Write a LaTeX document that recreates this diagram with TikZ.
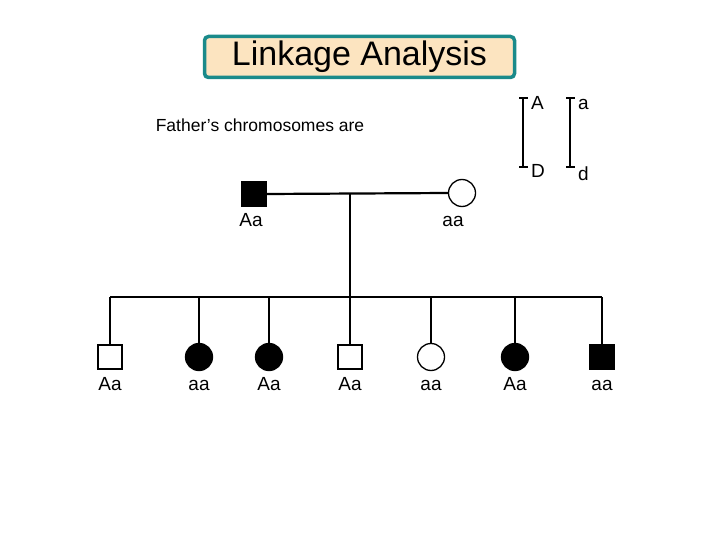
\documentclass[tikz,border=0pt]{standalone}
\usepackage{fontspec}
\setmainfont{Liberation Sans}
\begin{document}
\begin{tikzpicture}[x=1pt,y=-1pt,line width=2.2pt,
  lbl/.style={font=\fontsize{19}{22}\selectfont,inner sep=0pt,anchor=base},
  male/.style={draw,minimum size=24pt,inner sep=0pt,line width=1.3pt},
  female/.style={draw,circle,minimum size=27pt,inner sep=0pt,line width=1.3pt}]
\useasboundingbox (0,0) rectangle (720,540);
\definecolor{teal1}{HTML}{1A8A8A}\definecolor{wheat1}{HTML}{FCE4C0}
\node[draw=teal1,fill=wheat1,rounded corners=4pt,line width=3.5pt,minimum width=310pt,minimum height=41pt,font=\fontsize{34}{38}\selectfont] (title) at (359.5,57) {Linkage Analysis};
\node[font=\fontsize{17.5}{20}\selectfont,inner sep=0pt,anchor=base] (ft) at (260,132) {Father’s chromosomes are};
% chromosomes
\coordinate (c1t) at (523,98); \coordinate (c1b) at (523,167);
\coordinate (c2t) at (570,98); \coordinate (c2b) at (570,167);
\draw[line width=2pt] (c1t) -- (c1b); \draw[line width=2pt] (c2t) -- (c2b);
\draw[line width=1.3pt] ([xshift=-4pt]c1t) -- ([xshift=5pt]c1t) ([xshift=-4pt]c1b) -- ([xshift=5pt]c1b)
  ([xshift=-4pt]c2t) -- ([xshift=5pt]c2t) ([xshift=-4pt]c2b) -- ([xshift=5pt]c2b);
\node[lbl,anchor=base west] (gA) at (530,110) {A};
\node[lbl,anchor=base west] (ga) at (577,110) {a};
\node[lbl,anchor=base west] (gD) at (530,178) {D};
\node[lbl,anchor=base west] (gd) at (577,181) {d};
% parents
\node[male,fill=black] (f) at (254,194) {};
\node[female] (m) at (462,193) {};
\draw (f.east) -- (m.west);
\coordinate (mid) at (350,194);
\coordinate (sib) at (350,297);
\draw (mid) -- (sib);
\node[lbl] (fl) at (251,226) {Aa};
\node[lbl] (ml) at (453,226) {aa};
\coordinate (sl) at (110,297); \coordinate (sr) at (602,297);
\draw (sl) -- (sr);
% children
\foreach \n/\x/\t/\s/\f in {c1/110/Aa/male/white,c2/199/aa/female/black,c3/269/Aa/female/black,c4/350/Aa/male/white,c5/431/aa/female/white,c6/515/Aa/female/black,c7/602/aa/male/black}{
  \coordinate (\n top) at (\x,297);
  \node[\s,fill=\f] (\n) at (\x,357) {};
  \draw (\n top) -- (\n);
  \node[lbl] (\n l) at (\x,390) {\t};
}
\end{tikzpicture}
\end{document}
